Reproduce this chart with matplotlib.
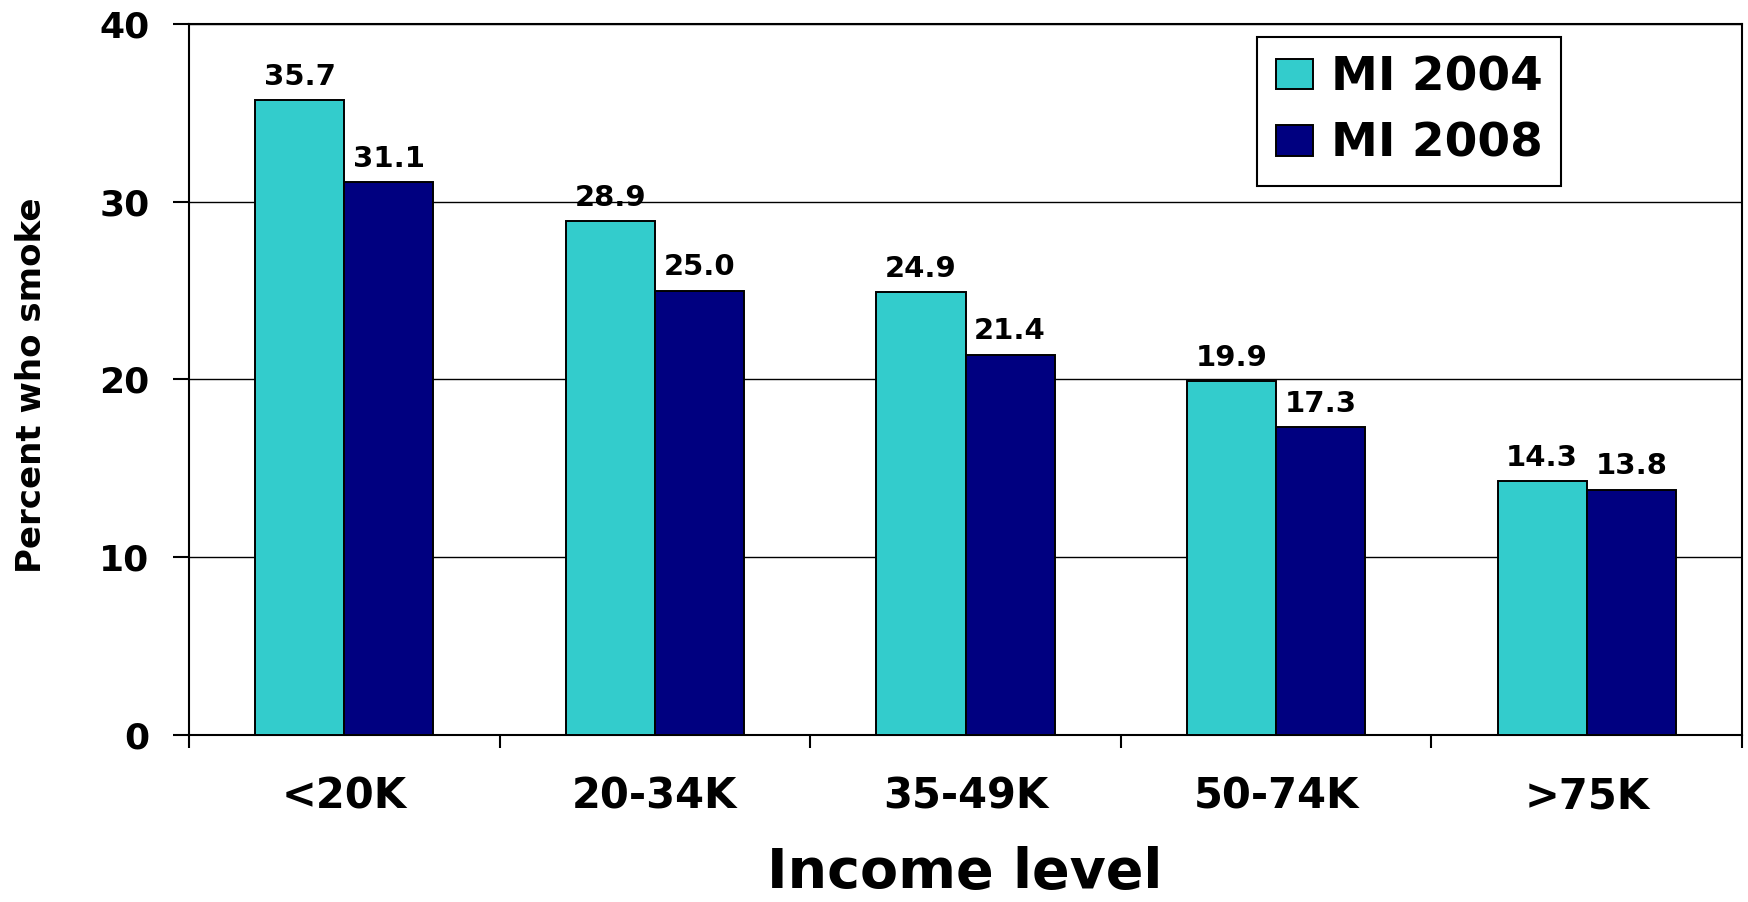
import matplotlib
matplotlib.use("Agg")
import matplotlib.pyplot as plt
import numpy as np

categories = ["<20K", "20-34K", "35-49K", "50-74K", ">75K"]
mi_2004 = [35.7, 28.9, 24.9, 19.9, 14.3]
mi_2008 = [31.1, 25.0, 21.4, 17.3, 13.8]
series_names = ["MI 2004", "MI 2008"]
y_ticks = [0, 10, 20, 30, 40]

plt.rcParams['font.family'] = ['DejaVu Sans']
plt.rcParams['font.weight'] = 'bold'

W, H = 1748, 902
fig = plt.figure(figsize=(W / 100, H / 100), dpi=100)
ax = fig.add_axes([189 / W, 1 - 735 / H, (1742 - 189) / W, (735 - 24) / H])

x = np.arange(len(categories))
bw = 0.287
b1 = ax.bar(x - bw / 2, mi_2004, bw, color="#33CCCC", edgecolor="black",
            linewidth=1.4, label=series_names[0], zorder=3)
b2 = ax.bar(x + bw / 2, mi_2008, bw, color="#000080", edgecolor="black",
            linewidth=1.4, label=series_names[1], zorder=3)

for bars, vals in ((b1, mi_2004), (b2, mi_2008)):
    for rect, v in zip(bars, vals):
        ax.annotate(f"{v:.1f}", xy=(rect.get_x() + rect.get_width() / 2, v),
                    xytext=(0, 11), textcoords="offset points",
                    ha="center", va="baseline", fontsize=21,
                    fontweight="bold", color="black", zorder=4)

ax.set_xlim(-0.5, len(categories) - 0.5)
ax.set_ylim(0, 40)
ax.set_yticks(y_ticks)
ax.set_yticklabels([str(t) for t in y_ticks], fontsize=26, fontweight="bold")
ax.set_xticks(x)
ax.set_xticklabels(categories, fontsize=30, fontweight="bold")
ax.set_xticks(np.arange(-0.5, len(categories)), minor=True)

ax.tick_params(axis="x", which="major", length=0, pad=29.5)
ax.tick_params(axis="x", which="minor", length=9.4, width=1.5, direction="out")
ax.tick_params(axis="y", which="major", length=11.5, width=1.5, direction="out", pad=17)

ax.yaxis.grid(True, color="black", linewidth=1.0, zorder=0)
ax.set_axisbelow(True)
for s in ax.spines.values():
    s.set_linewidth(1.5)
    s.set_color("black")

fig.text(32 / W, 1 - 385 / H, "Percent who smoke", rotation=90, ha="center",
         va="center", fontsize=24.5, fontweight="bold")
fig.text(965 / W, 2 / H, "Income level", ha="center", va="bottom",
         fontsize=40, fontweight="bold")

leg = ax.legend(loc="upper left",
                bbox_to_anchor=((1257 - 189) / 1553, (735 - 37) / 711),
                borderaxespad=0, prop={"weight": "bold", "size": 33.8},
                handlelength=0.79, handleheight=0.62, handletextpad=0.38,
                labelspacing=0.45, borderpad=0.4, fancybox=False,
                framealpha=1, edgecolor="black")
leg.get_frame().set_linewidth(1.5)

fig.savefig("out.png", dpi=100)
